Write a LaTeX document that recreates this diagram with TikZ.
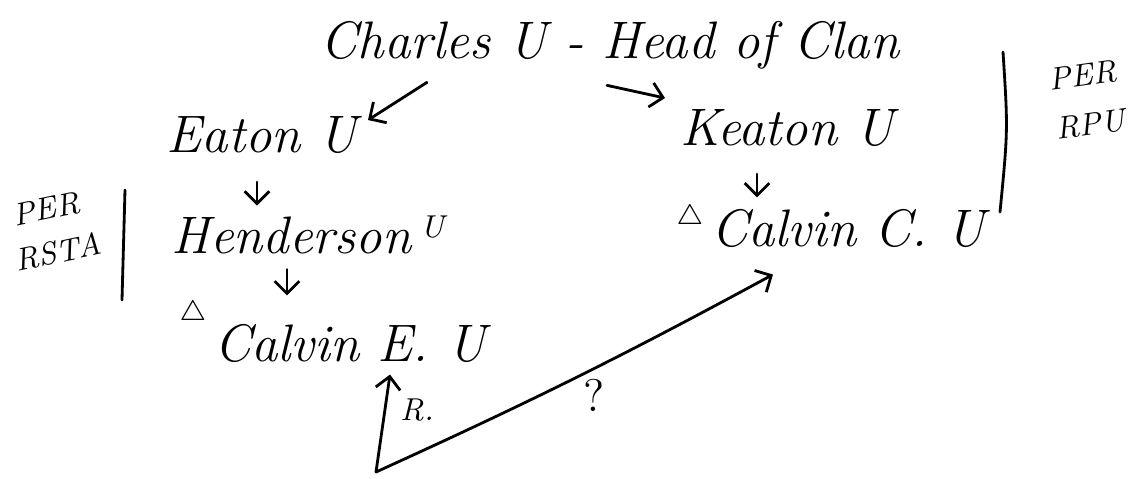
\documentclass[tikz,border=0pt]{standalone}
\usetikzlibrary{arrows.meta}
\begin{document}
\begin{tikzpicture}[x=0.01cm, y=-0.01cm, line width=0.8pt, line cap=round,
  >={Straight Barb[length=3.5pt,width=7pt]},
  person/.style={font=\fontsize{15}{18}\selectfont\itshape, inner sep=0pt},
  margin/.style={font=\fontsize{9}{14}\selectfont\itshape, align=left, inner sep=0pt},
  tri/.style={font=\fontsize{8}{8}\selectfont, inner sep=0pt},
  link/.style={->}]
\useasboundingbox (0,0) rectangle (1133,478);
% family
\node[person] (charles) at (610,45) {Charles U - Head of Clan};
\node[person] (eaton) at (262,135) {Eaton U};
\node[person] (keaton) at (787,128) {Keaton U};
\node[person] (henderson) at (308,235) {Henderson\,\raisebox{0.7ex}{\small U}};
\node[person] (calvinE) at (350,343) {Calvin E. U};
\node[person] (calvinC) at (848,228) {Calvin C. U};
\node[tri] (triE) at (193,313) {$\triangle$};
\node[tri] (triC) at (690,217) {$\triangle$};
% side notes
\node[margin, rotate=12] (rstaA) at (46,209) {PER};
\node[margin, rotate=12] (rstaB) at (58,252) {RSTA};
\node[margin, rotate=8] (rpu) at (1087,100) {PER\\RPU};
\draw (125,190) -- (122,300);
\draw (1003,52) .. controls (1008,130) .. (1000,212);
% descent
\draw[link] ([shift={(-183,12)}]charles.south) -- ([shift={(106,5)}]eaton.north);
\draw[link] ([shift={(-3,15)}]charles.south) -- ([shift={(-122,-10)}]keaton.north);
\draw[link] ([shift={(-5,27)}]eaton.south) -- ([shift={(-51,-9)}]henderson.north);
\draw[link] ([shift={(-21,14)}]henderson.south) -- ([shift={(-63,-27)}]calvinE.north);
\draw[link] ([shift={(-30,26)}]keaton.south) -- ([shift={(-91,-10)}]calvinC.north);
% bottom
\coordinate (root) at (376,472);
\draw[link] (root) -- ([shift={(40,11)}]calvinE.south);
\draw[link] (root) to[bend right=2] ([shift={(-75,26)}]calvinC.south);
\node[margin] (rlab) at (417,410) {R.};
\node[font=\fontsize{13}{15}\selectfont, inner sep=0pt] (qlab) at (594,395) {?};
\end{tikzpicture}
\end{document}
